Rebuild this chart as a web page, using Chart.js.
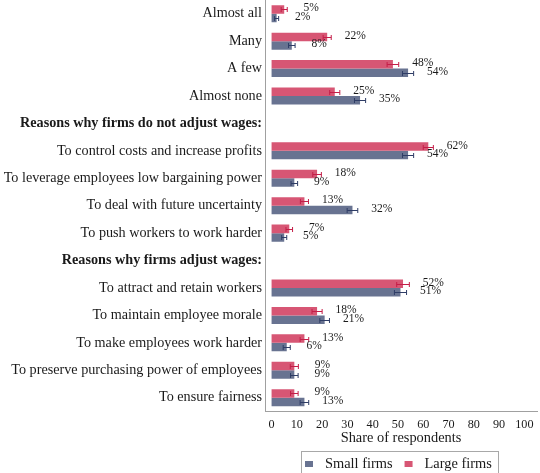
<!DOCTYPE html>
<html>
<head>
<meta charset="utf-8">
<script src="https://cdn.jsdelivr.net/npm/chart.js@4"></script>
<style>
  html, body { margin: 0; padding: 0; background: #fff; }
  #wrap { width: 540px; height: 473px; position: relative; }
</style>
</head>
<body>
<div id="wrap"><canvas id="chartSalaires"></canvas></div>
<script>
// rows of the horizontal bar chart, top to bottom (header rows carry no bars)
const categories = [
  'Almost all',
  'Many',
  'A few',
  'Almost none',
  'Reasons why firms do not adjust wages:',
  'To control costs and increase profits',
  'To leverage employees low bargaining power',
  'To deal with future uncertainty',
  'To push workers to work harder',
  'Reasons why firms adjust wages:',
  'To attract and retain workers',
  'To maintain employee morale',
  'To make employees work harder',
  'To preserve purchasing power of employees',
  'To ensure fairness'
];
const headerRows = [4, 9];

// share of respondents (%) and half-width of the confidence interval
const largeFirms = [5, 22, 48, 25, null, 62, 18, 13, 7, null, 52, 18, 13, 9, 9];
const largeErr   = [1.2, 1.6, 2.3, 2.0, null, 2.0, 1.7, 1.6, 1.3, null, 2.5, 2.0, 1.7, 1.6, 1.5];
const smallFirms = [2, 8, 54, 35, null, 54, 9, 32, 5, null, 51, 21, 6, 9, 13];
const smallErr   = [0.8, 1.3, 2.2, 2.2, null, 2.2, 1.3, 2.1, 1.0, null, 2.4, 1.9, 1.4, 1.5, 1.7];

const xTicks = [0, 10, 20, 30, 40, 50, 60, 70, 80, 90, 100];

const SERIF = '"Liberation Serif", "Times New Roman", serif';

// error bars + value labels on top of the bars
const errorBars = {
  id: 'errorBars',
  afterDatasetsDraw(chart) {
    const { ctx } = chart;
    const x = chart.scales.x;
    chart.data.datasets.forEach((ds, i) => {
      const meta = chart.getDatasetMeta(i);
      meta.data.forEach((bar, j) => {
        const v = ds.data[j];
        if (v == null) return;
        const e = ds.errors[j];
        const lo = x.getPixelForValue(v - e);
        const hi = x.getPixelForValue(v + e);
        const y = Math.round(bar.y) + 0.5;
        ctx.save();
        ctx.strokeStyle = ds.errorColor;
        ctx.lineWidth = 1;
        ctx.beginPath();
        ctx.moveTo(lo, y); ctx.lineTo(hi, y);
        ctx.moveTo(lo, y - 2.5); ctx.lineTo(lo, y + 2.5);
        ctx.moveTo(hi, y - 2.5); ctx.lineTo(hi, y + 2.5);
        ctx.stroke();
        ctx.fillStyle = '#1a1a1a';
        ctx.font = '11.5px ' + SERIF;
        ctx.textAlign = 'center';
        ctx.textBaseline = 'middle';
        ctx.fillText(v + '%', hi + 24, bar.y - 1);
        ctx.restore();
      });
    });
  }
};

// legend in a framed box under the axis title, small firms first
const boxedLegend = {
  id: 'boxedLegend',
  afterDraw(chart) {
    const { ctx } = chart;
    ctx.save();
    ctx.strokeStyle = '#a8a8a8';
    ctx.lineWidth = 1;
    ctx.strokeRect(301.5, 451.5, 197, 40);
    ctx.font = '14.4px ' + SERIF;
    ctx.textBaseline = 'middle';
    ctx.textAlign = 'left';
    let lx = 305;
    chart.data.datasets.slice().reverse().forEach(ds => {
      ctx.fillStyle = ds.backgroundColor;
      ctx.fillRect(lx, 461, 8, 6);
      lx += 8 + 12;
      ctx.fillStyle = '#1a1a1a';
      ctx.fillText(ds.label, lx, 464.5);
      lx += ctx.measureText(ds.label).width + 12;
    });
    ctx.restore();
  }
};

new Chart(document.getElementById('chartSalaires'), {
  type: 'bar',
  data: {
    labels: categories,
    datasets: [
      {
        label: 'Large firms',
        data: largeFirms,
        errors: largeErr,
        backgroundColor: '#d75674',
        errorColor: '#c41e48',
        categoryPercentage: 0.62,
        barPercentage: 1.0
      },
      {
        label: 'Small firms',
        data: smallFirms,
        errors: smallErr,
        backgroundColor: '#687391',
        errorColor: '#2f3d66',
        categoryPercentage: 0.62,
        barPercentage: 1.0
      }
    ]
  },
  options: {
    indexAxis: 'y',
    responsive: true,
    maintainAspectRatio: false,
    animation: false,
    layout: { padding: { top: 0, right: 3, bottom: 28, left: 0 } },
    plugins: {
      legend: { display: false },
      tooltip: { enabled: false }
    },
    scales: {
      x: {
        type: 'linear',
        min: -2.6,
        max: 105,
        afterBuildTicks: scale => { scale.ticks = xTicks.map(v => ({ value: v })); },
        afterFit: scale => { scale.paddingLeft = 0; scale.paddingRight = 0; },
        grid: { display: false, drawTicks: false },
        border: { display: true, color: '#a0a0a0', width: 1 },
        ticks: {
          color: '#1a1a1a',
          padding: 7,
          font: { family: SERIF, size: 12.2, lineHeight: 1 },
          maxRotation: 0
        },
        title: {
          display: true,
          text: 'Share of respondents',
          color: '#1a1a1a',
          padding: { top: -7, bottom: 0 },
          font: { family: SERIF, size: 14.4, lineHeight: 1 }
        }
      },
      y: {
        type: 'category',
        afterFit: scale => {
          scale.width = 265;
          scale.paddingTop = 0;
          scale.paddingBottom = 0;
        },
        grid: { display: false, drawTicks: false },
        border: { display: true, color: '#a0a0a0', width: 1 },
        ticks: {
          color: '#1a1a1a',
          padding: 3,
          autoSkip: false,
          font: ctx => ({
            family: SERIF,
            size: 14.2,
            weight: headerRows.includes(ctx.index) ? 'bold' : 'normal'
          })
        }
      }
    }
  },
  plugins: [errorBars, boxedLegend]
});
</script>
</body>
</html>
